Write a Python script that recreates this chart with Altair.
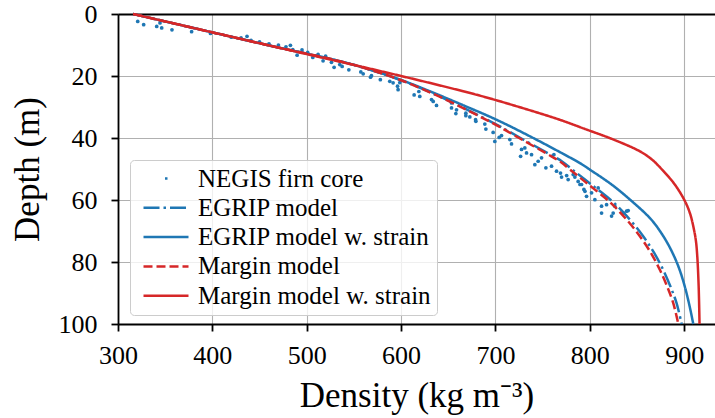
import altair as alt
import pandas as pd

# ---------------- data ----------------
core_density = [320.9, 327.2, 341.0, 344.5, 346.3, 357.2, 378.0, 398.0, 420.0, 430.4, 436.7, 441.0,
                450.0, 460.0, 470.0, 478.0, 482.7, 485.2, 489.8, 495.0, 501.0, 506.4, 512.0, 517.3,
                520.0, 526.2, 529.0, 535.0, 537.5, 544.6, 557.3, 559.8, 567.6, 568.6, 578.0, 588.0,
                591.5, 596.2, 596.8, 598.6, 613.8, 618.8, 619.8, 632.2, 634.0, 637.5, 653.4, 653.4,
                658.7, 658.0, 668.6, 668.6, 672.8, 678.9, 679.2, 688.7, 689.8, 697.5, 699.3, 703.9,
                706.4, 715.2, 717.0, 727.6, 726.6, 731.1, 732.9, 738.2, 741.7, 745.2, 748.8, 753.4,
                759.4, 761.9, 764.7, 768.9, 770.0, 775.4, 777.0, 782.4, 784.1, 787.6, 789.5, 791.2,
                793.7, 794.8, 796.5, 801.8, 805.3, 808.8, 812.4, 812.4, 817.7, 823.0, 824.7, 826.5,
                835.3, 838.9, 840.6]
core_depth = [2.4, 3.45, 4.0, 2.9, 4.5, 5.1, 5.7, 6.25, 7.5, 7.7, 7.2, 8.5,
              9.0, 9.6, 10.0, 10.6, 10.1, 11.5, 13.3, 11.6, 12.4, 14.0, 13.0, 15.1,
              13.6, 15.6, 17.2, 16.3, 16.9, 18.0, 18.7, 19.3, 20.4, 19.9, 21.2, 21.7,
              22.2, 23.3, 24.4, 22.1, 26.1, 25.0, 26.6, 27.6, 28.2, 29.5, 28.7, 30.3,
              30.9, 32.1, 32.8, 32.0, 33.2, 34.1, 34.6, 35.5, 37.1, 38.2, 41.1, 39.8,
              39.2, 40.5, 41.9, 43.7, 45.9, 43.2, 44.8, 45.4, 48.6, 47.5, 46.4, 49.6,
              49.1, 45.4, 50.7, 51.3, 52.6, 52.1, 53.4, 51.8, 52.6, 54.0, 55.0, 55.0,
              56.6, 57.2, 58.8, 57.7, 59.9, 56.1, 62.0, 64.2, 61.5, 65.2, 64.2, 62.0,
              64.2, 63.6, 63.4]

margin_depth = [0, 10, 16, 21.2, 27, 33, 36.2, 40, 45, 47.5, 50.2, 55, 60.6, 66, 71.7, 77,
                82.4, 88, 93.2, 100]
margin_density = [316, 458, 545, 598.5, 643, 683, 703, 725, 754, 768, 779, 798.5, 821, 838, 853,
                  864.5, 874, 882, 888.3, 893.7]

egrip_depth = [0, 10, 16, 21.2, 27, 33, 36.2, 40, 45, 47.5, 50.2, 55, 60.6, 66, 71.7, 77,
               82.4, 88, 93.2, 100]
egrip_density = [316, 458, 545, 598.5, 643.5, 684, 704.2, 726.5, 756, 770.2, 781.5, 801.5, 824.3,
                 841.5, 856.5, 868, 877.5, 885.5, 891.8, 897.3]

egrip_strain_depth = [0, 10, 16, 21.3, 25, 29.2, 34.1, 40, 45, 48.1, 50.2, 55, 60, 66.3, 72, 77,
                      82, 87.8, 94, 100]
egrip_strain_density = [316, 458, 545, 600, 631, 664, 701, 740, 771, 789.5, 800, 823, 843, 865,
                        878.5, 887.5, 894.5, 900.5, 905.5, 909.6]

margin_strain_depth = [0, 10, 20, 26.3, 30, 34.1, 37, 40.5, 44.3, 47, 50.2, 55, 60.4, 64.5, 68.5,
                       73, 78.1, 88, 100]
margin_strain_density = [316, 458, 600, 683, 725, 768, 794, 825, 853, 866, 876.5, 890, 900.8, 906.3,
                         909.6, 912.3, 913.8, 915.3, 916.2]

series_names = ["NEGIS firn core", "EGRIP model", "EGRIP model w. strain",
                "Margin model", "Margin model w. strain"]
series_colors = ["#1f77b4", "#1f77b4", "#1f77b4", "#d62728", "#d62728"]
series_dashes = [[0, 21.5, 2.5, 100], [16, 4, 2.5, 4], [1, 0], [9, 4], [1, 0]]

x_ticks = [300, 400, 500, 600, 700, 800, 900]
y_ticks = [0, 20, 40, 60, 80, 100]

# ---------------- tables ----------------
pts_df = pd.DataFrame({"density": core_density, "depth": core_depth})

rows = []
for name, dens, dep in [
    ("EGRIP model", egrip_density, egrip_depth),
    ("EGRIP model w. strain", egrip_strain_density, egrip_strain_depth),
    ("Margin model", margin_density, margin_depth),
    ("Margin model w. strain", margin_strain_density, margin_strain_depth),
]:
    for i, (a, b) in enumerate(zip(dens, dep)):
        rows.append({"series": name, "density": a, "depth": b, "idx": i})
line_df = pd.DataFrame(rows)

FONT = "Liberation Serif"
x_scale = alt.Scale(domain=[300, 932.6], nice=False, zero=False)
y_scale = alt.Scale(domain=[0, 100], reverse=True, nice=False, zero=False)
y_axis = alt.Axis(values=y_ticks, title="Depth (m)", labelPadding=14, titlePadding=13,
                  labelFlush=False)

legend = alt.Legend(title=None, orient="none", legendX=12, legendY=146,
                    symbolType="M-1,0H8", symbolSize=100, symbolStrokeWidth=2.5,
                    symbolOffset=0, labelOffset=37, labelLimit=600,
                    labelFont=FONT, labelFontSize=25, labelColor="black",
                    rowPadding=3.3, padding=6,
                    fillColor="rgba(255,255,255,0.8)", strokeColor="#cccccc",
                    cornerRadius=4)

points = alt.Chart(pts_df).mark_circle(size=14, color="#1f77b4", opacity=1).encode(
    x=alt.X("density:Q", scale=x_scale,
            axis=alt.Axis(values=x_ticks, title="Density (kg m⁻³)", labelPadding=11,
                          titlePadding=10, grid=True, labelFlush=False)),
    y=alt.Y("depth:Q", scale=y_scale, axis=y_axis),
)

lines = alt.Chart(line_df).mark_line(strokeWidth=2.5, interpolate="catmull-rom").encode(
    x=alt.X("density:Q", scale=x_scale,
            axis=alt.Axis(orient="top", labels=False, ticks=False, grid=False, title=None,
                          domain=True)),
    y=alt.Y("depth:Q", scale=y_scale, axis=y_axis),
    color=alt.Color("series:N", scale=alt.Scale(domain=series_names, range=series_colors),
                    legend=legend),
    strokeDash=alt.StrokeDash("series:N", scale=alt.Scale(domain=series_names, range=series_dashes),
                              legend=legend),
    detail="series:N",
    order="idx:Q",
)

chart = alt.layer(points, lines).resolve_axis(x="independent").properties(
    width=597, height=310,
    padding={"left": 118, "top": 14, "right": 0, "bottom": 94},
    autosize=alt.AutoSizeParams(type="none"),
).configure_view(stroke=None).configure_axis(
    domainColor="black", domainWidth=1.8, tickColor="black", tickWidth=1.8, tickSize=7,
    labelFont=FONT, labelFontSize=26, labelColor="black",
    titleFont=FONT, titleFontSize=35, titleFontWeight="normal", titleColor="black",
    gridColor="#b0b0b0", gridWidth=1.1,
)

chart.save("out.html", embed_options={"renderer": "svg", "actions": False})
